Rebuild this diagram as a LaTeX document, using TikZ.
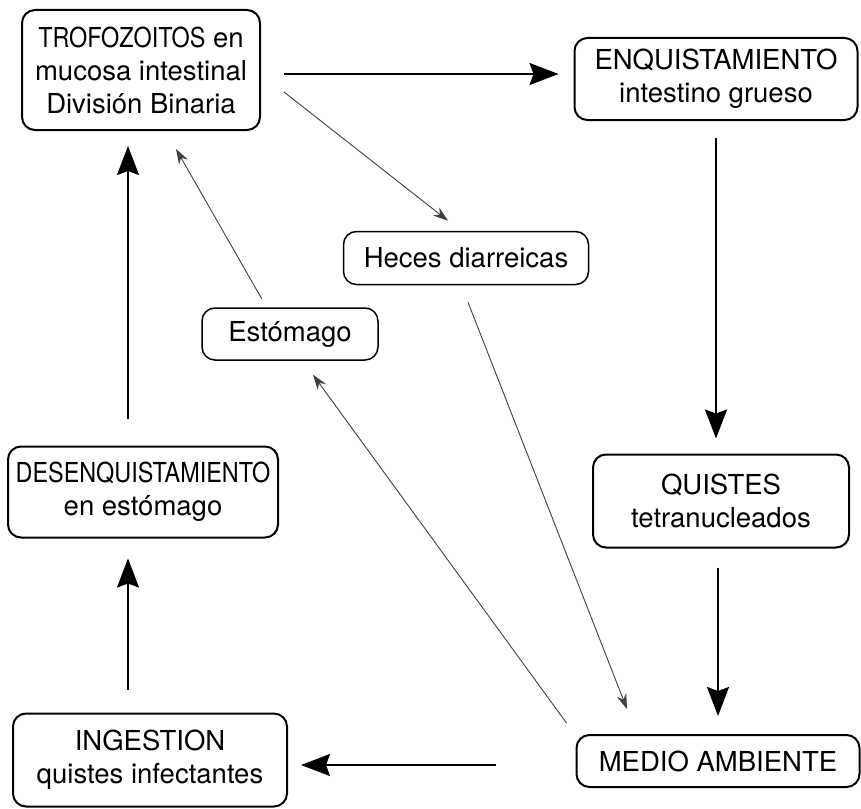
\documentclass[tikz,border=0pt]{standalone}
\usepackage{fontspec}
\setmainfont{TeX Gyre Heros}
\newfontfamily\condfont[FakeStretch=0.85]{TeX Gyre Heros}
\usetikzlibrary{calc}
\usetikzlibrary{arrows.meta}

\begin{document}
\begin{tikzpicture}[x=1pt, y=-1pt, thick]
    \tikzstyle{etapa}=[draw, rounded corners=13pt, line width=2pt, align=center,
                       inner sep=0pt, font=\fontsize{27.5}{33}\selectfont]
    \tikzstyle{lugar}=[etapa, line width=1.5pt]
    \tikzstyle{ciclo}=[line width=2pt, -{Stealth[length=29pt,width=22pt,inset=4pt]}]
    \tikzstyle{paso}=[line width=0.9pt, black!75, -{Stealth[length=15pt,width=10pt]}]
    \useasboundingbox (0,0) rectangle (861,808);
    % Stages of the cycle
    \node[etapa, minimum width=238pt, minimum height=120pt] (trof) at (141,70)
        {{\condfont TROFOZOITOS} en\\mucosa intestinal\\División Binaria};
    \node[etapa, minimum width=283pt, minimum height=82pt] (enq) at (716,79)
        {ENQUISTAMIENTO\\intestino grueso};
    \node[etapa, minimum width=256pt, minimum height=93pt] (quistes) at (721,501)
        {QUISTES\\tetranucleados};
    \node[etapa, minimum width=283pt, minimum height=52pt] (medio) at (718,761)
        {MEDIO AMBIENTE};
    \node[etapa, minimum width=274pt, minimum height=93pt] (ingest) at (150,760)
        {INGESTION\\quistes infectantes};
    \node[etapa, minimum width=270pt, minimum height=91pt] (desenq) at (143,492)
        {{\condfont DESENQUISTAMIENTO}\\en estómago};
    % Places passed on the way
    \node[lugar, minimum width=245pt, minimum height=53pt] (heces) at (466,258) {Heces diarreicas};
    \node[lugar, minimum width=176pt, minimum height=52pt] (est) at (290,334) {Estómago};
    % Main cycle
    \draw[ciclo] ($(trof.east)+(23,4)$) -- ($(enq.west |- trof.east)+(-15,4)$);
    \draw[ciclo] ($(enq.south)+(0,17)$) -- ($(quistes.north -| enq.south)+(0,-15)$);
    \draw[ciclo] ($(quistes.south)+(-3,19)$) -- ($(medio.north)+(0,-18)$);
    \draw[ciclo] ($(medio.west)+(-80,4)$) -- ($(ingest.east |- medio.west)+(13,4)$);
    \draw[ciclo] ($(ingest.north)+(-22,-23)$) -- ($(desenq.south)+(-15,20)$);
    \draw[ciclo] ($(desenq.north)+(-15,-27)$) -- ($(trof.south)+(-13,15)$);
    % Short way
    \draw[paso] ($(trof.east)+(23,22)$) -- ($(heces.north)+(-18,-10)$);
    \draw[paso] ($(heces.south)+(2,17)$) -- ($(medio.north)+(-91,-25)$);
    \draw[paso] ($(medio.north west)+(-9,-11)$) -- ($(est.south)+(23,14)$);
    \draw[paso] ($(est.north)+(-28,-8)$) -- ($(trof.south)+(35,18)$);
\end{tikzpicture}
\end{document}
